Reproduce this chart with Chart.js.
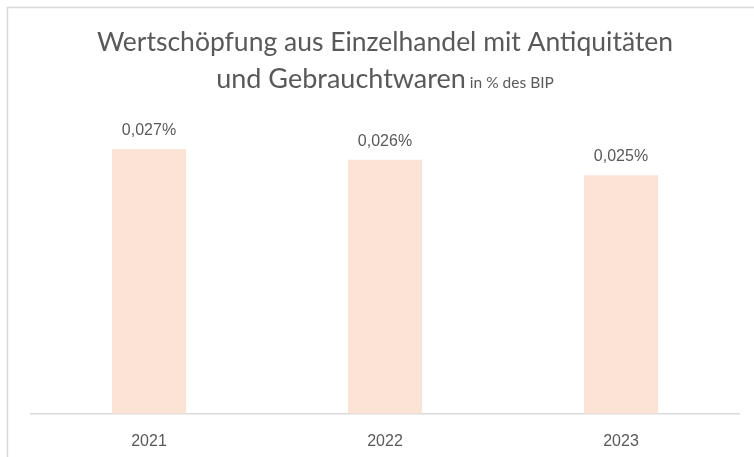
<!DOCTYPE html>
<html>
<head>
<meta charset="utf-8">
<script src="https://cdn.jsdelivr.net/npm/chart.js@4"></script>
<style>
  html, body { margin: 0; padding: 0; background: #fff; }
  #wrap { position: relative; width: 754px; height: 457px; }
</style>
</head>
<body>
<div id="wrap"><canvas id="chart" width="754" height="457"></canvas></div>
<script>
// --- Data ---
const years = ['2021', '2022', '2023'];
const shareOfGdp = [0.0274, 0.0263, 0.0247];   // in % des BIP
const valueLabels = ['0,027%', '0,026%', '0,025%'];

const titleLine1 = 'Wertschöpfung aus Einzelhandel mit Antiquitäten';
const titleLine2 = 'und Gebrauchtwaren';
const titleUnit = ' in % des BIP';

const textColor = '#595959';

// frame + title drawn on the canvas
const frameAndTitle = {
  id: 'frameAndTitle',
  beforeDraw(chart) {
    const ctx = chart.ctx;
    ctx.save();
    ctx.strokeStyle = '#d9d9d9';
    ctx.lineWidth = 1.5;
    ctx.beginPath();
    ctx.moveTo(7.5, 470);
    ctx.lineTo(7.5, 7.5);
    ctx.lineTo(770, 7.5);
    ctx.stroke();

    const cx = 385;
    ctx.fillStyle = textColor;
    ctx.textBaseline = 'alphabetic';
    ctx.font = '26.5px Lato';
    ctx.textAlign = 'center';
    ctx.fillText(titleLine1, cx, 51);

    ctx.font = '27px Lato';
    const w1 = ctx.measureText(titleLine2).width;
    ctx.font = '15.5px Lato';
    const w2 = ctx.measureText(titleUnit).width;
    const start = cx - (w1 + w2) / 2;
    ctx.textAlign = 'left';
    ctx.font = '27px Lato';
    ctx.fillText(titleLine2, start, 88);
    ctx.font = '15.5px Lato';
    ctx.fillText(titleUnit, start + w1, 88);
    ctx.restore();
  }
};

// value labels above the bars
const barValues = {
  id: 'barValues',
  afterDatasetsDraw(chart) {
    const ctx = chart.ctx;
    const meta = chart.getDatasetMeta(0);
    ctx.save();
    ctx.fillStyle = textColor;
    ctx.font = '16px "Liberation Sans", Arial, sans-serif';
    ctx.textAlign = 'center';
    ctx.textBaseline = 'alphabetic';
    meta.data.forEach((bar, i) => {
      ctx.fillText(valueLabels[i], bar.x, bar.y - 14);
    });
    ctx.restore();
  }
};

new Chart(document.getElementById('chart').getContext('2d'), {
  type: 'bar',
  data: {
    labels: years,
    datasets: [{
      data: shareOfGdp,
      backgroundColor: '#FBE3D6',
      borderWidth: 0,
      categoryPercentage: 1,
      barPercentage: 0.314
    }]
  },
  options: {
    responsive: false,
    animation: false,
    layout: { padding: { left: 31, right: 15, top: 124, bottom: -12 } },
    plugins: {
      legend: { display: false },
      title: { display: false },
      tooltip: { enabled: false }
    },
    scales: {
      x: {
        grid: { display: false, drawTicks: false },
        border: { display: true, color: '#d9d9d9', width: 1.5 },
        ticks: {
          color: textColor,
          padding: 18,
          font: { family: '"Liberation Sans", Arial, sans-serif', size: 16 }
        }
      },
      y: {
        display: false,
        min: 0,
        max: 0.03
      }
    }
  },
  plugins: [frameAndTitle, barValues]
});
</script>
</body>
</html>
